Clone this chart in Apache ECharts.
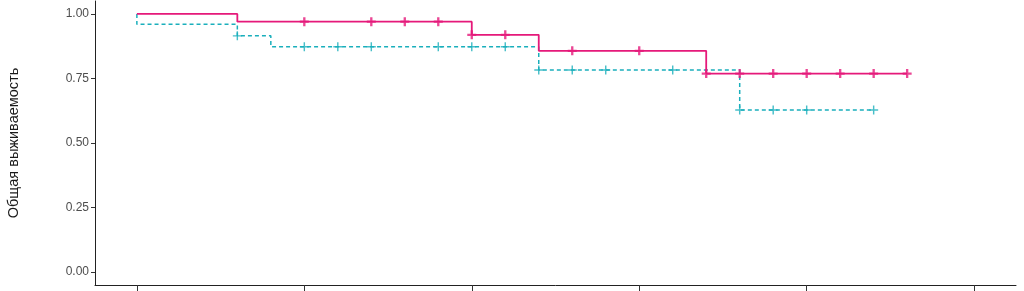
<!DOCTYPE html>
<html>
<head>
<meta charset="utf-8">
<script src="https://cdn.jsdelivr.net/npm/echarts@6/dist/echarts.min.js"></script>
<style>
html,body{margin:0;padding:0;background:#fff;}
#chart{width:1024px;height:291px;}
</style>
</head>
<body>
<div id="chart"></div>
<script>
// Kaplan–Meier step data (time, survival)
const redTimes = [0, 6, 20, 24, 34, 46];
const redSurv  = [1.0, 0.97, 0.919, 0.857, 0.769, 0.769];
const redCensor = [10, 14, 16, 18, 20, 22, 26, 30, 34, 36, 38, 40, 42, 44, 46];

const tealTimes = [0, 0, 6, 8, 24, 36, 44];
const tealSurv  = [1.0, 0.96, 0.915, 0.873, 0.783, 0.628, 0.628];
const tealCensor = [6, 10, 12, 14, 18, 20, 22, 24, 26, 28, 32, 36, 38, 40, 44];

const xTicks = [0, 10, 20, 30, 40, 50];
const yTicks = [0, 0.25, 0.5, 0.75, 1.0];
const yName = 'Общая выживаемость';

function stepValue(times, surv, t) {
  let v = surv[0];
  for (let i = 0; i < times.length; i++) { if (times[i] <= t) v = surv[i]; }
  return v;
}
const pair = (a, b) => a.map((t, i) => [t, b[i]]);

const red = '#E5197A', teal = '#1AAFBC';
const plusThick = 'path://M-1.3,-5H1.3V-1.3H5V1.3H1.3V5H-1.3V1.3H-5V-1.3H-1.3Z';
const plusThin  = 'path://M-0.8,-5H0.8V-0.8H5V0.8H0.8V5H-0.8V0.8H-5V-0.8H-0.8Z';

const chart = echarts.init(document.getElementById('chart'), null, {renderer: 'canvas'});
chart.setOption({
  animation: false,
  grid: {left: 95, right: 8, top: 1, bottom: 6, containLabel: false, outerBoundsMode: 'none'},
  xAxis: {
    type: 'value', min: -2.5, max: 52.5,
    axisLine: {show: true, onZero: false, lineStyle: {color: '#222', width: 1}},
    axisTick: {show: true, length: 7, lineStyle: {color: '#333'}, customValues: xTicks},
    axisLabel: {show: false},
    splitLine: {show: false}
  },
  yAxis: {
    type: 'value', min: -0.05, max: 1.05,
    name: yName, nameLocation: 'middle', nameGap: 74, nameRotate: 90,
    nameTextStyle: {fontFamily: 'Liberation Sans, Arial, sans-serif', fontSize: 14.5, color: '#1a1a1a'},
    axisLine: {show: true, onZero: false, lineStyle: {color: '#222', width: 1}},
    axisTick: {show: true, length: 4, lineStyle: {color: '#333'}, customValues: yTicks},
    axisLabel: {
      customValues: yTicks, margin: 6,
      fontFamily: 'Liberation Sans, Arial, sans-serif', fontSize: 12, color: '#4d4d4d',
      formatter: v => v.toFixed(2)
    },
    splitLine: {show: false}
  },
  series: [
    {
      type: 'line', step: 'end', data: pair(tealTimes, tealSurv),
      showSymbol: false, lineStyle: {color: teal, width: 1.5, type: [4, 3]}, z: 2
    },
    {
      type: 'line', step: 'end', data: pair(redTimes, redSurv),
      showSymbol: false, lineStyle: {color: red, width: 1.8}, z: 3
    },
    {
      type: 'scatter', symbol: plusThin, symbolSize: 9,
      data: tealCensor.map(t => [t, stepValue(tealTimes, tealSurv, t)]),
      itemStyle: {color: teal}, z: 4
    },
    {
      type: 'scatter', symbol: plusThick, symbolSize: 9,
      data: redCensor.map(t => [t, stepValue(redTimes, redSurv, t)]),
      itemStyle: {color: red}, z: 5
    }
  ]
});
</script>
</body>
</html>
